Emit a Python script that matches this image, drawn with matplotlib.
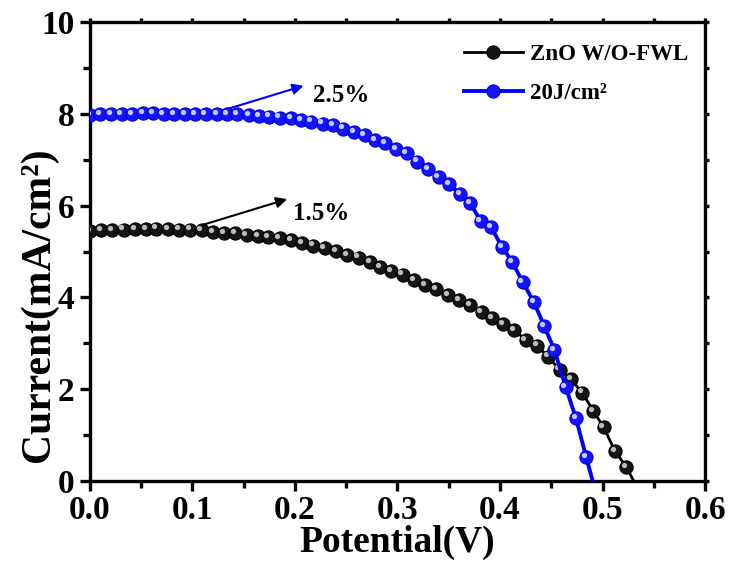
import matplotlib
matplotlib.use("Agg")
import matplotlib.pyplot as plt
from matplotlib.ticker import MultipleLocator
from matplotlib.transforms import offset_copy

plt.rcParams['font.family'] = ['Liberation Serif', 'DejaVu Serif']
plt.rcParams['font.weight'] = 'bold'

# ZnO W/O-FWL  (potential in V, current density in mA/cm2)
potential_ref = [0.000, 0.011, 0.022, 0.033, 0.044, 0.055, 0.065, 0.076, 0.087, 0.098,
                 0.109, 0.120, 0.131, 0.142, 0.153, 0.164, 0.174, 0.185, 0.196, 0.207,
                 0.218, 0.229, 0.240, 0.251, 0.262, 0.273, 0.283, 0.294, 0.305, 0.316,
                 0.327, 0.338, 0.349, 0.360, 0.371, 0.382, 0.392, 0.403, 0.414, 0.425,
                 0.436, 0.447, 0.458, 0.469, 0.480, 0.491, 0.501, 0.512, 0.523, 0.534]
current_ref = [5.45, 5.47, 5.47, 5.48, 5.49, 5.49, 5.50, 5.49, 5.48, 5.48,
               5.47, 5.43, 5.41, 5.40, 5.36, 5.33, 5.31, 5.29, 5.25, 5.19,
               5.13, 5.07, 5.01, 4.93, 4.87, 4.77, 4.66, 4.57, 4.50, 4.38,
               4.27, 4.18, 4.05, 3.94, 3.83, 3.68, 3.55, 3.42, 3.29, 3.07,
               2.95, 2.71, 2.43, 2.22, 1.93, 1.53, 1.17, 0.66, 0.31, -0.15]

# 20 J/cm2
potential_20j = [0.000, 0.010, 0.021, 0.031, 0.041, 0.052, 0.062, 0.072, 0.082, 0.093,
                 0.103, 0.113, 0.124, 0.134, 0.144, 0.155, 0.165, 0.175, 0.185, 0.196,
                 0.206, 0.216, 0.227, 0.237, 0.247, 0.258, 0.268, 0.278, 0.288, 0.299,
                 0.309, 0.319, 0.330, 0.340, 0.350, 0.361, 0.371, 0.381, 0.391, 0.402,
                 0.412, 0.422, 0.433, 0.443, 0.453, 0.464, 0.474, 0.484, 0.494]
current_20j = [7.98, 7.99, 7.99, 7.99, 8.00, 8.01, 8.01, 8.00, 8.00, 8.00,
               8.00, 8.00, 8.00, 8.00, 7.99, 7.98, 7.95, 7.94, 7.92, 7.90,
               7.86, 7.83, 7.79, 7.76, 7.68, 7.61, 7.54, 7.43, 7.36, 7.23,
               7.14, 6.96, 6.79, 6.63, 6.47, 6.25, 6.05, 5.67, 5.54, 5.10,
               4.77, 4.34, 3.90, 3.38, 2.86, 2.05, 1.37, 0.52, -0.30]

labels = ["ZnO W/O-FWL", "20J/cm\u00b2"]
efficiencies = ["1.5%", "2.5%"]

fig = plt.figure(figsize=(7.30, 5.66), dpi=100)
ax = fig.add_axes([0.123, 0.150, 0.843, 0.811])

# small offset copy for the shiny highlight on each ball
hl = offset_copy(ax.transData, fig=fig, x=-1.6, y=1.6, units='points')

ax.plot(potential_ref, current_ref, '-o', color='black', lw=2, ms=9.5,
        mfc='#151515', mec='#000000', mew=0.8, label=labels[0], zorder=3)
ax.plot(potential_ref, current_ref, 'o', color='#bcbcbc', ms=3.8, mew=0,
        transform=hl, zorder=4)

ax.plot(potential_20j, current_20j, '-o', color='#0000ff', lw=2.8, ms=9.5,
        mfc='#1414ff', mec='#0000dd', mew=0.8, label=labels[1], zorder=5)
ax.plot(potential_20j, current_20j, 'o', color='#c8c8ff', ms=3.8, mew=0,
        transform=hl, zorder=6)

# efficiency arrows
ax.annotate("", xy=(0.195, 6.16), xytext=(0.104, 5.54),
            arrowprops=dict(arrowstyle='-|>', color='black', lw=1.5, mutation_scale=16))
ax.text(0.198, 5.84, efficiencies[0], fontsize=18, fontweight='bold', va='center', ha='left')
ax.annotate("", xy=(0.211, 8.63), xytext=(0.120, 8.01),
            arrowprops=dict(arrowstyle='-|>', color='#0000ff', lw=1.5, mutation_scale=16))
ax.text(0.218, 8.40, efficiencies[1], fontsize=18, fontweight='bold', va='center', ha='left')

ax.set_xlim(0, 0.6)
ax.set_ylim(0, 10)
ax.xaxis.set_major_locator(MultipleLocator(0.1))
ax.xaxis.set_minor_locator(MultipleLocator(0.05))
ax.yaxis.set_major_locator(MultipleLocator(2))
ax.yaxis.set_minor_locator(MultipleLocator(1))
ax.xaxis.set_major_formatter(matplotlib.ticker.FormatStrFormatter('%.1f'))

for s in ax.spines.values():
    s.set_linewidth(2.4)
ax.tick_params(which='major', direction='out', length=7, width=2.4, labelsize=24,
               top=True, right=True)
ax.tick_params(which='minor', direction='out', length=5, width=2.4, top=True, right=True)
ax.tick_params(axis='x', which='major', labeltop=False, pad=3)
ax.tick_params(axis='y', which='major', pad=4)
for t in ax.xaxis.get_major_ticks() + ax.yaxis.get_major_ticks():
    t.tick2line.set_markersize(3)
for t in ax.xaxis.get_minor_ticks() + ax.yaxis.get_minor_ticks():
    t.tick2line.set_markersize(3)

ax.set_xlabel("Potential(V)", fontsize=27, fontweight='bold', labelpad=-1)
ax.set_ylabel("Current(mA/cm\u00b2)", fontsize=30, fontweight='bold')
ax.yaxis.set_label_coords(-0.052, 0.385)

leg = ax.legend(loc='upper left', bbox_to_anchor=(0.60, 0.963), frameon=False,
                fontsize=16.5, handlelength=2.6, handletextpad=0.3, labelspacing=0.8,
                borderaxespad=0, borderpad=0.2)
for txt in leg.get_texts():
    txt.set_fontweight('bold')

fig.savefig("out.png", dpi=100)
